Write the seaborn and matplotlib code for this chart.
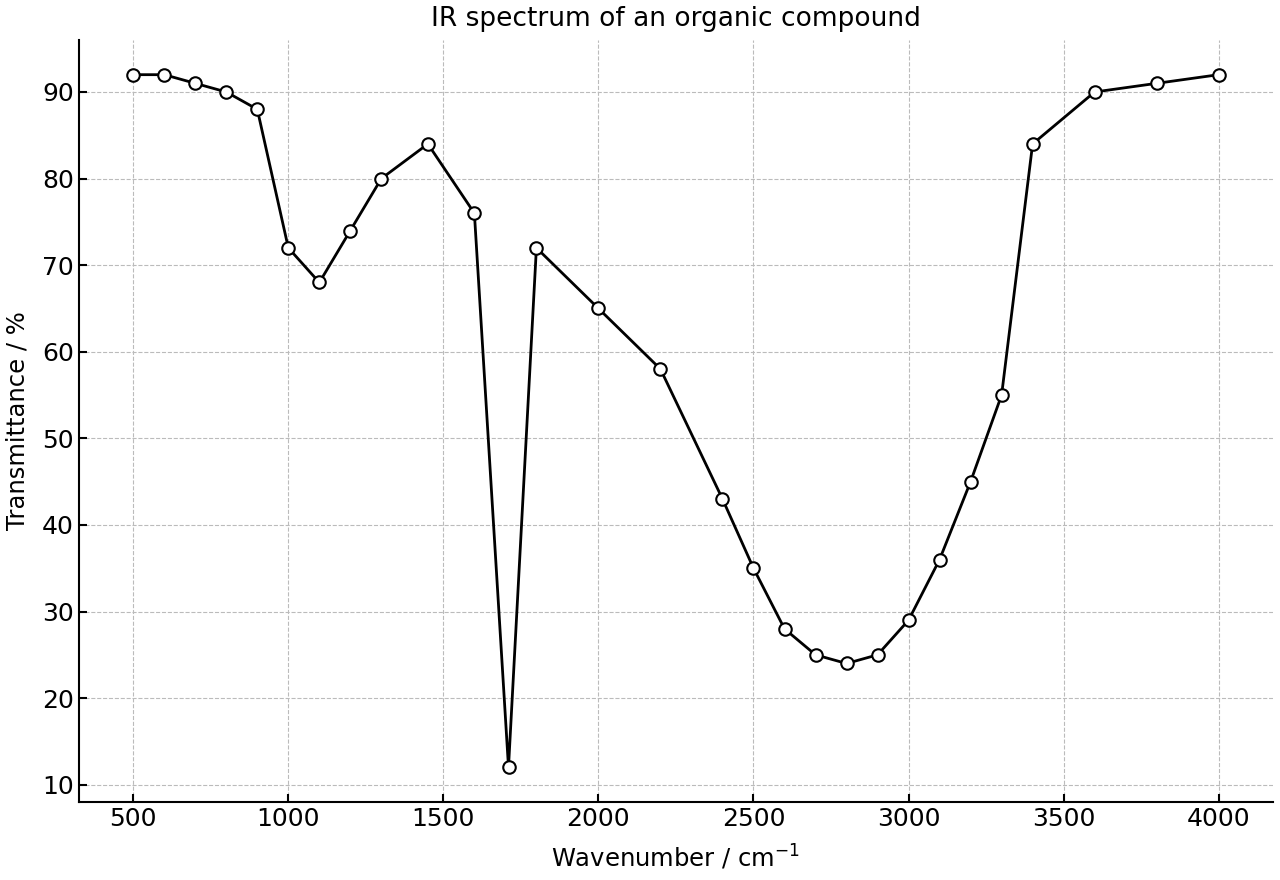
import pandas as pd
import matplotlib
matplotlib.use("Agg")
import matplotlib.pyplot as plt
import seaborn as sns

# Points du spectre IR
wavenumber = [500, 600, 700, 800, 900, 1000, 1100, 1200, 1300, 1450, 1600, 1710,
              1800, 2000, 2200, 2400, 2500, 2600, 2700, 2800, 2900, 3000, 3100,
              3200, 3300, 3400, 3600, 3800, 4000]
transmittance = [92, 92, 91, 90, 88, 72, 68, 74, 80, 84, 76, 12,
                 72, 65, 58, 43, 35, 28, 25, 24, 25, 29, 36,
                 45, 55, 84, 90, 91, 92]

df = pd.DataFrame({"wavenumber": wavenumber, "transmittance": transmittance})

sns.set_style("ticks", {"text.color": "black", "axes.labelcolor": "black",
                        "xtick.color": "black", "ytick.color": "black",
                        "axes.edgecolor": "black"})
plt.rcParams['font.family'] = ['DejaVu Sans']

fig, ax = plt.subplots(figsize=(12.8, 8.8), dpi=100)

sns.lineplot(data=df, x="wavenumber", y="transmittance", ax=ax,
             color="black", linewidth=2, marker="o", markersize=9,
             markerfacecolor="white", markeredgecolor="black", markeredgewidth=1.5)

ax.set_title("IR spectrum of an organic compound", fontsize=19, pad=10)
ax.set_xlabel("Wavenumber / cm$^{-1}$", fontsize=17.5, labelpad=9)
ax.set_ylabel("Transmittance / %", fontsize=17.5, labelpad=9)
ax.tick_params(direction="in", labelsize=18, length=6, width=1.5, colors="black")
ax.grid(True, linestyle="--", color="#bbbbbb", linewidth=0.8)
for s in ["left", "bottom"]:
    ax.spines[s].set_linewidth(1.5)
sns.despine(ax=ax)

fig.subplots_adjust(left=0.0617, right=0.9945, top=0.9545, bottom=0.0886)
plt.savefig("out.png", dpi=100)
